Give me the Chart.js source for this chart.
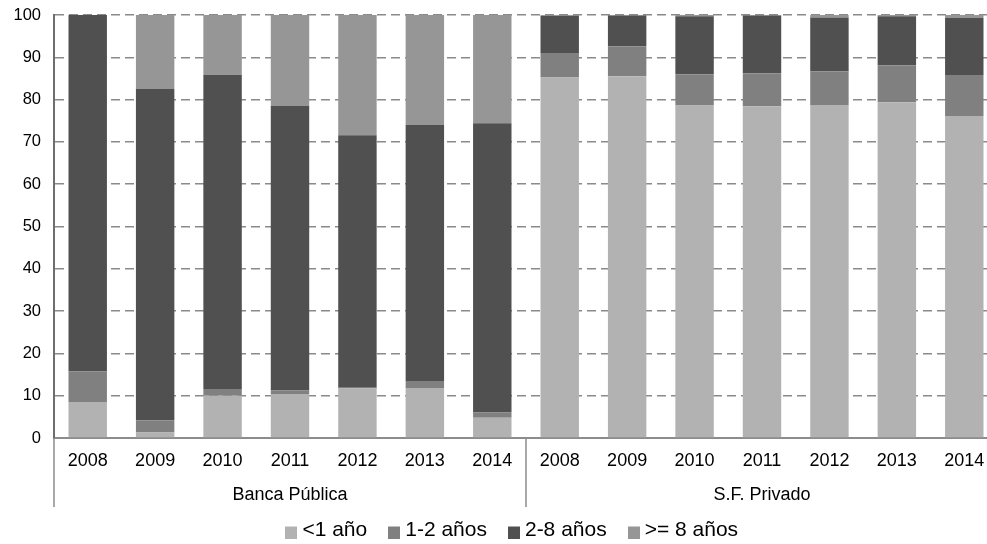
<!DOCTYPE html>
<html>
<head>
<meta charset="utf-8">
<script src="https://cdn.jsdelivr.net/npm/chart.js@4/dist/chart.umd.min.js"></script>
<style>
  html, body { margin: 0; padding: 0; background: #fff; }
  #wrap { width: 987px; height: 544px; position: relative; }
</style>
</head>
<body>
<div id="wrap"><canvas id="c"></canvas></div>
<script>
// Groups of institutions and the years shown in each
const groups = ["Banca Pública", "S.F. Privado"];
const years = ["2008", "2009", "2010", "2011", "2012", "2013", "2014"];

// Share of the portfolio by term (%), Banca Pública 2008-2014 then S.F. Privado 2008-2014
const menos1 = [8.5, 1.3, 10.0, 10.4, 11.7, 11.8, 4.8, 85.2, 85.5, 78.6, 78.4, 78.7, 79.4, 76.1];
const de1a2  = [7.2, 2.9, 1.6, 0.8, 0.2, 1.7, 1.2, 5.8, 7.1, 7.4, 7.8, 8.0, 8.7, 9.7];
const de2a8  = [84.3, 78.3, 74.3, 67.3, 59.7, 60.5, 68.4, 8.8, 7.3, 13.7, 13.7, 12.7, 11.6, 13.5];
const mas8   = [0.0, 17.5, 14.1, 21.5, 28.4, 26.0, 25.6, 0.2, 0.1, 0.3, 0.1, 0.6, 0.3, 0.7];

const seriesNames = ["<1 año", "1-2 años", "2-8 años", ">= 8 años"];
const yTicks = [0, 10, 20, 30, 40, 50, 60, 70, 80, 90, 100];

const FONT = "'Liberation Sans', Arial, sans-serif";
const colors = ['#b2b2b2', '#808080', '#505050', '#969696'];
const values = [menos1, de1a2, de2a8, mas8];

// plot frame: the category axis runs a little past the right edge of the canvas
const LEGEND_PAD = 26.5;
const FRAME = { top: 15, bottom: 438, right: 998, legendTop: 530 - 10.5 - LEGEND_PAD, legendShift: 21 };

// one category per (group, year)
const labels = [];
groups.forEach(() => years.forEach(y => labels.push(y)));

// small square legend markers sitting on the text baseline
function legendSwatch(color) {
  const c = document.createElement('canvas');
  c.width = 12; c.height = 17;
  const g = c.getContext('2d');
  g.fillStyle = color;
  g.fillRect(0, 5, 12, 12);
  return c;
}
const swatches = colors.map(legendSwatch);

// fixes the plot frame after Chart.js has laid out its boxes
const frame = {
  id: 'frame',
  afterLayout(chart) {
    const ca = chart.chartArea;
    const x = chart.scales.x, y = chart.scales.y;
    ca.top = FRAME.top; ca.bottom = FRAME.bottom; ca.right = FRAME.right;
    ca.width = ca.right - ca.left; ca.height = ca.bottom - ca.top;
    y.top = ca.top; y.bottom = ca.bottom; y.height = ca.height; y.configure();
    x.right = ca.right; x.width = x.right - x.left;
    x.top = ca.bottom; x.bottom = x.top + x.height; x.configure();
    const lg = chart.legend;
    if (lg) {
      const h = lg.height;
      lg.top = FRAME.legendTop; lg.bottom = lg.top + h;
      lg.left += FRAME.legendShift; lg.right += FRAME.legendShift;
    }
  }
};

// group separators and group names under the year labels
const groupAxis = {
  id: 'groupAxis',
  afterDraw(chart) {
    const x = chart.scales.x;
    const ctx = chart.ctx;
    const top = chart.chartArea.bottom;
    const n = years.length;
    const edges = [x.left];
    for (let g = 1; g < groups.length; g++) {
      edges.push((x.getPixelForValue(g * n - 1) + x.getPixelForValue(g * n)) / 2);
    }
    edges.push(x.right);
    ctx.save();
    ctx.strokeStyle = '#8c8c8c';
    ctx.lineWidth = 1.5;
    edges.forEach(e => {
      ctx.beginPath();
      ctx.moveTo(e, top);
      ctx.lineTo(e, top + 69);
      ctx.stroke();
    });
    ctx.fillStyle = '#000';
    ctx.font = '18px ' + FONT;
    ctx.textAlign = 'center';
    ctx.textBaseline = 'middle';
    groups.forEach((g, i) => {
      ctx.fillText(g, (edges[i] + edges[i + 1]) / 2, top + 57);
    });
    ctx.restore();
  }
};

new Chart(document.getElementById('c'), {
  type: 'bar',
  data: {
    labels: labels,
    datasets: seriesNames.map((name, i) => ({
      label: name,
      data: values[i],
      backgroundColor: colors[i],
      borderWidth: 0,
      barPercentage: 0.57,
      categoryPercentage: 1.0
    }))
  },
  options: {
    responsive: true,
    maintainAspectRatio: false,
    animation: false,
    devicePixelRatio: 1,
    layout: { padding: { top: 10, right: 0, left: 0, bottom: 0 } },
    plugins: {
      legend: {
        position: 'bottom',
        labels: {
          color: '#000',
          font: { family: FONT, size: 21 },
          usePointStyle: true,
          boxWidth: 1,
          boxHeight: 12,
          padding: LEGEND_PAD,
          generateLabels(chart) {
            const items = Chart.defaults.plugins.legend.labels.generateLabels(chart);
            items.forEach((it, i) => { it.pointStyle = swatches[i]; });
            return items;
          }
        }
      },
      tooltip: { enabled: false }
    },
    scales: {
      x: {
        stacked: true,
        grid: { display: false, drawTicks: false },
        border: { display: true, color: '#8c8c8c', width: 2 },
        ticks: {
          color: '#000',
          font: { family: FONT, size: 18 },
          padding: 12,
          maxRotation: 0,
          autoSkip: false
        },
        afterFit(scale) { scale.height = 40; }
      },
      y: {
        stacked: true,
        min: 0,
        max: 100,
        afterBuildTicks(scale) { scale.ticks = yTicks.map(v => ({ value: v })); },
        grid: {
          color: '#8a8a8a',
          lineWidth: 1.5,
          drawTicks: false
        },
        border: { display: true, color: '#6e6e6e', width: 2, dash: [9, 5] },
        ticks: {
          color: '#000',
          font: { family: FONT, size: 16.5 },
          padding: 13
        },
        afterFit(scale) { scale.width = 54; }
      }
    }
  },
  plugins: [frame, groupAxis]
});
</script>
</body>
</html>
